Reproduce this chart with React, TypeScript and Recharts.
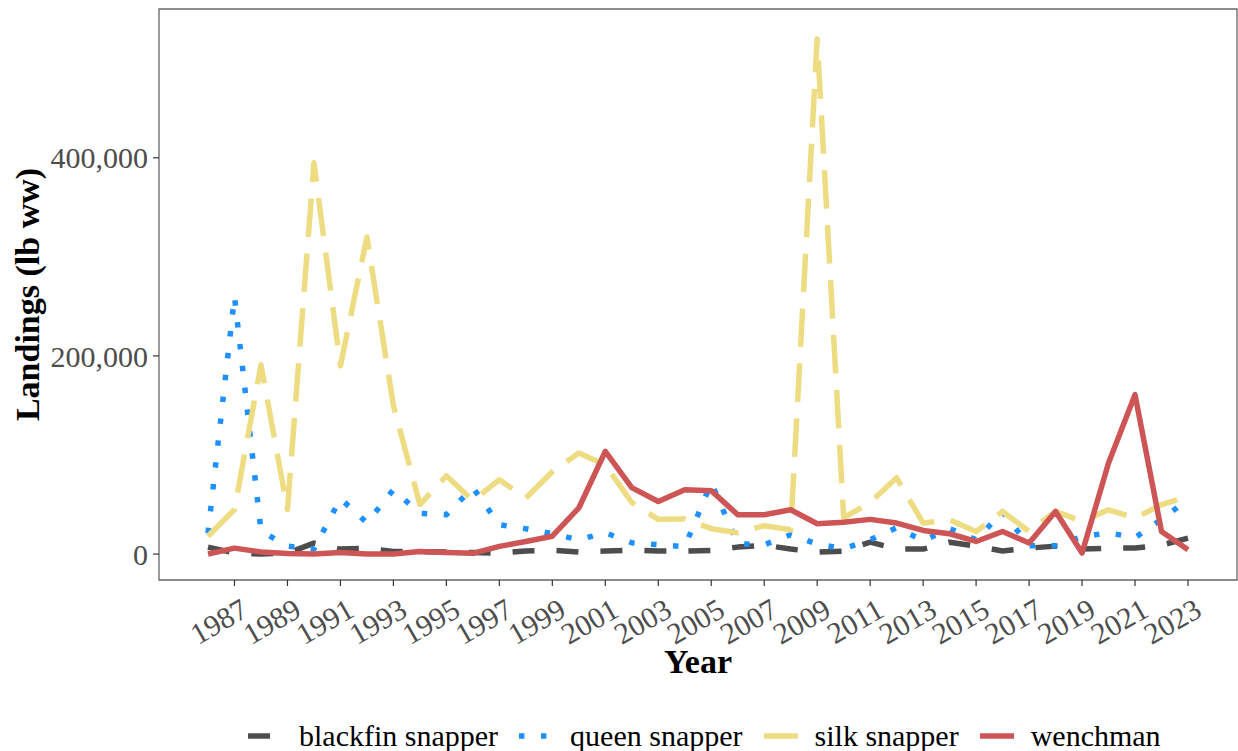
import React from 'react';
import { LineChart, Line, XAxis, YAxis, ReferenceArea } from 'recharts';

const years = [
  1986, 1987, 1988, 1989, 1990, 1991, 1992, 1993, 1994, 1995,
  1996, 1997, 1998, 1999, 2000, 2001, 2002, 2003, 2004, 2005,
  2006, 2007, 2008, 2009, 2010, 2011, 2012, 2013, 2014, 2015,
  2016, 2017, 2018, 2019, 2020, 2021, 2022, 2023,
];

const blackfin = [
  7000, 1000, 0, 1000, 11000, 5000, 6000, 2500, 2500, 2000,
  1500, 1000, 3000, 4000, 2000, 3000, 4000, 3000, 3000, 3500,
  7000, 9000, 5000, 2000, 3000, 12000, 5000, 5000, 12000, 8000,
  3000, 6000, 8000, 5000, 6000, 6000, 9000, 16000,
];

const queen = [
  21000, 260000, 23500, 8000, 5000, 56000, 31600, 65000, 41000, 39700,
  67000, 29600, 25500, 20500, 14400, 21500, 11400, 9400, 7400, 72000,
  10400, 9400, 19500, 10000, 5400, 14400, 26600, 13400, 25600, 14400,
  42700, 8400, 8400, 17500, 21500, 16500, 35000, 55000,
];

const silk = [
  18000, 45000, 191000, 45000, 395000, 190000, 320000, 150000, 50000, 79000,
  54000, 75000, 56500, 83000, 102000, 90000, 52000, 35000, 35500, 25600,
  21500, 28600, 24500, 520000, 36700, 52000, 77000, 31300, 34600, 22800,
  43000, 22800, 43000, 33000, 44700, 36300, 49800, 58200,
];

const wenchman = [
  0, 6000, 2000, 500, 0, 1600, 0, 0, 2600, 1500,
  700, 7700, 12700, 18000, 46500, 103600, 67000, 53100, 65000, 64000,
  39700, 39700, 44700, 30600, 32000, 35000, 31300, 23800, 20500, 12700,
  22800, 11100, 43000, 1000, 91900, 160900, 22800, 4300,
];

const xTicks = [
  1987, 1989, 1991, 1993, 1995, 1997, 1999, 2001, 2003, 2005,
  2007, 2009, 2011, 2013, 2015, 2017, 2019, 2021, 2023,
];
const yTicks = [0, 200000, 400000];

const seriesNames = ['blackfin snapper', 'queen snapper', 'silk snapper', 'wenchman'];

const data = years.map((year, i) => ({
  year,
  blackfin: blackfin[i],
  queen: queen[i],
  silk: silk[i],
  wenchman: wenchman[i],
}));

const FONT = '"Liberation Serif", "Times New Roman", Times, serif';
const LW = 5.5;

const styles = [
  { key: 'blackfin', color: '#4D4D4D', dash: `${4 * LW} ${4 * LW}` },
  { key: 'queen', color: '#1E90FF', dash: `${1 * LW} ${3 * LW}` },
  { key: 'silk', color: '#EEDC82', dash: `${7 * LW} ${3 * LW}` },
  { key: 'wenchman', color: '#CD5555', dash: undefined as string | undefined },
];

const X_DOMAIN: [number, number] = [1984.15, 2024.85];
const Y_DOMAIN: [number, number] = [-26200, 550200];

const XTick = (props: any) => {
  const { x, y, payload } = props;
  const ax = x + 5;
  const ay = y + 9;
  return (
    <text
      x={ax}
      y={ay}
      dy="0.7em"
      textAnchor="end"
      fill="#4D4D4D"
      fontSize={30}
      fontFamily={FONT}
      transform={`rotate(-30 ${ax} ${ay})`}
    >
      {payload.value}
    </text>
  );
};

const YTitle = (props: any) => {
  const vb = props.viewBox || { x: 0, y: 9, width: 159, height: 571 };
  const cx = 27;
  const cy = vb.y + vb.height / 2;
  return (
    <text
      x={cx}
      y={cy}
      textAnchor="middle"
      dominantBaseline="central"
      fontSize={34}
      fontWeight="bold"
      fontFamily={FONT}
      fill="#000"
      transform={`rotate(-90 ${cx} ${cy})`}
    >
      Landings (lb ww)
    </text>
  );
};

const XTitle = (props: any) => {
  const vb = props.viewBox || { x: 159, y: 580, width: 1078, height: 171 };
  const cx = vb.x + vb.width / 2;
  return (
    <text
      x={cx}
      y={673}
      textAnchor="middle"
      fontSize={34}
      fontWeight="bold"
      fontFamily={FONT}
      fill="#000"
    >
      Year
    </text>
  );
};

const LegendKey = ({ color, dash }: { color: string; dash?: string }) => (
  <svg width={34} height={20} style={{ display: 'block' }}>
    <line
      x1={0}
      y1={10}
      x2={34}
      y2={10}
      stroke={color}
      strokeWidth={LW}
      strokeDasharray={dash}
      strokeLinecap="butt"
    />
  </svg>
);

export default function App() {
  return (
    <div style={{ position: 'absolute', left: 0, top: 0, width: 1238, height: 751, background: '#fff' }}>
      <LineChart
        width={1238}
        height={751}
        data={data}
        margin={{ top: 9, right: 1, bottom: 0, left: 0 }}
      >
        <XAxis
          dataKey="year"
          type="number"
          domain={X_DOMAIN}
          ticks={xTicks}
          interval={0}
          allowDataOverflow
          height={171}
          axisLine={false}
          tickLine={{ stroke: '#333333', strokeWidth: 1.2 }}
          tickSize={6}
          tick={<XTick />}
          label={<XTitle />}
        />
        <YAxis
          type="number"
          domain={Y_DOMAIN}
          ticks={yTicks}
          interval={0}
          allowDataOverflow
          width={159}
          axisLine={false}
          tickLine={{ stroke: '#333333', strokeWidth: 1.2 }}
          tickSize={6}
          tickMargin={5}
          tick={{ fill: '#4D4D4D', fontSize: 30, fontFamily: FONT }}
          tickFormatter={(v: number) => v.toLocaleString('en-US')}
          label={<YTitle />}
        />
        <ReferenceArea
          x1={X_DOMAIN[0]}
          x2={X_DOMAIN[1]}
          y1={Y_DOMAIN[0]}
          y2={Y_DOMAIN[1]}
          fill="none"
          fillOpacity={0}
          stroke="#666666"
          strokeWidth={1.3}
          ifOverflow="visible"
        />
        {styles.map((s, i) => (
          <Line
            key={s.key}
            dataKey={s.key}
            name={seriesNames[i]}
            type="linear"
            stroke={s.color}
            strokeWidth={LW}
            strokeDasharray={s.dash}
            strokeLinecap="butt"
            strokeLinejoin="round"
            dot={false}
            activeDot={false}
            isAnimationActive={false}
          />
        ))}
      </LineChart>
      <div
        style={{
          position: 'absolute',
          left: 248,
          top: 720,
          display: 'flex',
          alignItems: 'center',
          fontFamily: FONT,
          fontSize: 30,
          color: '#000',
          whiteSpace: 'nowrap',
          lineHeight: '32px',
        }}
      >
        {styles.map((s, i) => (
          <div key={s.key} style={{ display: 'flex', alignItems: 'center', marginRight: 21 }}>
            <LegendKey color={s.color} dash={s.dash} />
            <span style={{ marginLeft: 17 }}>{seriesNames[i]}</span>
          </div>
        ))}
      </div>
    </div>
  );
}
